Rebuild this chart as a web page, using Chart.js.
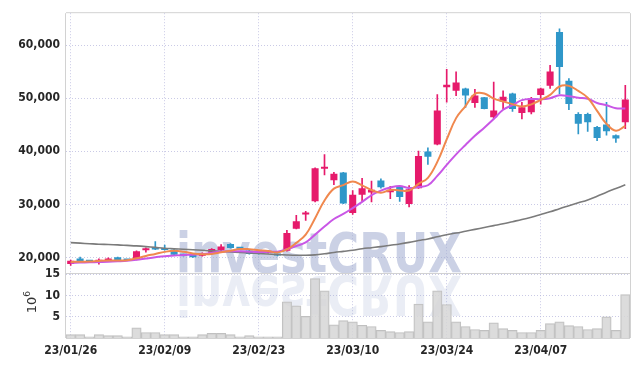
<!DOCTYPE html>
<html><head><meta charset="utf-8">
<script src="https://cdn.jsdelivr.net/npm/chart.js@4.4.0/dist/chart.umd.min.js"></script>
<style>html,body{margin:0;padding:0;background:#fff;}canvas{display:block}</style>
</head><body>
<canvas id="c" width="639" height="366"></canvas>
<script>
const dates = ['23/01/26','23/01/27','23/01/30','23/01/31','23/02/01','23/02/02','23/02/03','23/02/06','23/02/07','23/02/08',
'23/02/09','23/02/10','23/02/13','23/02/14','23/02/15','23/02/16','23/02/17','23/02/20','23/02/21','23/02/22',
'23/02/23','23/02/24','23/02/27','23/02/28','23/03/02','23/03/03','23/03/06','23/03/07','23/03/08','23/03/09',
'23/03/10','23/03/13','23/03/14','23/03/15','23/03/16','23/03/17','23/03/20','23/03/21','23/03/22','23/03/23',
'23/03/24','23/03/27','23/03/28','23/03/29','23/03/30','23/03/31','23/04/03','23/04/04','23/04/05','23/04/06',
'23/04/07','23/04/10','23/04/11','23/04/12','23/04/13','23/04/14','23/04/17','23/04/18','23/04/19','23/04/20'];
const openP = [18760,19810,19320,18940,19440,20060,19500,19630,21370,21620,
21620,21490,20500,20560,20310,20870,21370,22550,21800,21310,
21120,20880,20560,21250,25400,28100,30600,36700,34550,36000,
28400,31830,32250,34500,32300,33380,30080,33060,39970,41270,
52100,51420,51850,49100,50170,46440,49370,50900,47240,47370,
50600,52360,62500,53300,47060,47060,44580,45080,43030,45500];
const highP = [19500,20060,19380,19750,19940,20100,19560,21250,21800,22990,
22360,21550,20620,20600,20870,21680,22430,22600,21870,21400,
21180,21300,20620,25100,27950,28700,36900,39400,36050,36050,
32600,34930,34400,34810,33400,33500,33570,40050,40660,50700,
55450,54970,51900,51700,50200,53050,51420,51000,49240,50170,
51900,56200,63100,53700,47300,47200,44700,49240,43100,52450];
const lowP = [18510,19250,19130,18760,19250,19400,19380,19560,21000,21450,
21370,20450,20250,20000,20250,20810,21300,21750,21600,20620,
20620,20800,20310,21200,25400,27000,30450,35550,33700,30150,
28100,30580,30450,33060,31100,30580,29520,33000,37540,41200,
49250,50490,48300,48300,47990,46100,48000,47500,46120,47060,
48900,51850,50800,47870,43300,43770,42000,43030,41700,44250];
const closeP = [19380,19320,19200,19560,19630,19440,19440,21180,21740,21500,
21430,20500,20310,20060,20810,21620,22050,21800,21650,20680,
20680,21250,20380,24600,26850,28400,36800,37050,35800,30150,
31830,33060,32750,33250,32750,31380,32880,39100,38980,47700,
52550,52970,50500,50500,48000,47700,50300,48000,48300,50000,
51850,55030,55900,48920,45200,45500,42520,43770,42400,49750];
const volumeM = [0.8,0.8,0.3,0.8,0.55,0.55,0.3,2.4,1.3,1.3,
0.8,0.8,0.3,0.3,0.8,1.1,1.1,0.8,0.3,0.55,
0.3,0.3,0.3,8.5,7.6,5.1,14.0,11.1,3.1,4.1,
3.8,3.0,2.7,1.8,1.5,1.3,1.5,8.0,3.8,11.1,
7.9,3.8,2.7,2.0,1.8,3.6,2.2,1.8,1.3,1.3,
1.8,3.4,3.8,2.9,2.7,2.0,2.2,5.0,1.8,10.2];
const ma5 = [19150,19200,19250,19350,19420,19430,19460,19850,20290,20660,
21060,21270,21100,20760,20620,20660,20970,21270,21590,21560,
21370,21210,20930,21520,22750,24300,27410,30740,32980,33640,
34330,33580,32720,32210,32730,32640,32600,33870,35020,38010,
42240,46260,48540,50840,50900,49930,49400,48900,48460,48860,
49690,50640,52220,52340,51380,50110,47610,45180,43880,44790];
const ma10 = [19000,19050,19100,19150,19200,19280,19380,19550,19800,20040,
20240,20360,20470,20520,20640,20860,21120,21180,21170,21090,
21020,21090,21100,21550,22160,22830,24310,25830,27250,28200,
29310,30490,31730,32590,33180,33480,33090,33300,33610,35370,
37440,39430,41210,42930,44460,46090,47830,48720,49650,49880,
49810,50020,50560,50400,50120,49900,49120,48700,48110,48080];
const maLong = [22800,22700,22600,22500,22450,22380,22280,22180,22050,21900,
21750,21650,21550,21450,21350,21250,21150,21050,20950,20850,
20750,20650,20550,20480,20430,20420,20500,20700,20950,21150,
21350,21650,21850,22050,22300,22550,22850,23200,23500,23900,
24300,24600,24950,25300,25650,26000,26350,26750,27150,27600,
28100,28600,29200,29750,30300,30850,31550,32300,33000,33700];
const priceTicks = [20000,30000,40000,50000,60000];
const volumeTicks = [5,10,15];
const labelEvery = 10;

const UP = '#e61a6b', DOWN = '#2f97c9';
const GRID = 'rgba(180,180,220,0.7)';
const BORDER = '#d2d2d2';
const FONT = {family:'"DejaVu Sans Condensed", "DejaVu Sans", sans-serif', size:12, weight:'bold'};
const TXT = '#262626';
const candleColors = closeP.map((c,i)=> c>=openP[i] ? UP : DOWN);

const decor = {
  id:'decor',
  beforeDatasetsDraw(chart){
    const ctx = chart.ctx;
    ctx.save();
    ctx.font = 'bold 55px "DejaVu Sans Condensed", "DejaVu Sans", sans-serif';
    ctx.textBaseline = 'alphabetic';
    ctx.fillStyle = 'rgba(160,172,208,0.55)';
    ctx.fillText('investCRUX', 176, 272, 286);
    ctx.translate(0, 548); ctx.scale(1,-1);
    ctx.fillStyle = 'rgba(160,172,208,0.22)';
    ctx.fillText('investCRUX', 176, 272, 286);
    ctx.restore();
  },
  afterDraw(chart){
    const ctx = chart.ctx, a = chart.chartArea, yv = chart.scales.yv;
    ctx.save();
    ctx.strokeStyle = BORDER; ctx.lineWidth = 1;
    ctx.beginPath();
    ctx.moveTo(a.left-0.5, a.top); ctx.lineTo(a.left-0.5, a.bottom);
    ctx.moveTo(a.right+0.5, a.top); ctx.lineTo(a.right+0.5, a.bottom);
    ctx.moveTo(a.left, a.top-0.5); ctx.lineTo(a.right, a.top-0.5);
    ctx.moveTo(a.left, Math.round(yv.top)+0.5); ctx.lineTo(a.right, Math.round(yv.top)+0.5);
    ctx.moveTo(a.left, a.bottom+0.5); ctx.lineTo(a.right, a.bottom+0.5);
    ctx.stroke();
    ctx.translate(33, 305); ctx.rotate(-Math.PI/2);
    ctx.fillStyle = '#333';
    ctx.textAlign = 'center'; ctx.textBaseline = 'middle';
    ctx.font = '13px "DejaVu Sans", sans-serif';
    ctx.fillText('10', 0, 0);
    ctx.font = '9px "DejaVu Sans", sans-serif';
    ctx.fillText('6', 11, -5);
    ctx.restore();
  }
};

new Chart(document.getElementById('c'), {
  data: {
    labels: dates,
    datasets: [
      {type:'line', label:'MA5', data:ma5, yAxisID:'y', borderColor:'#f0884e', borderWidth:2, pointRadius:0, tension:0.4, order:0},
      {type:'line', label:'MA10', data:ma10, yAxisID:'y', borderColor:'#c957e6', borderWidth:2, pointRadius:0, tension:0.4, order:0},
      {type:'line', label:'MA60', data:maLong, yAxisID:'y', borderColor:'#7b7b7b', borderWidth:1.6, pointRadius:0, tension:0.4, order:0},
      {type:'bar', label:'body', data:openP.map((o,i)=>[o,closeP[i]]), yAxisID:'y', backgroundColor:candleColors, borderWidth:0,
        barPercentage:0.75, categoryPercentage:1, grouped:false, minBarLength:2, order:1},
      {type:'bar', label:'wick', data:lowP.map((l,i)=>[l,highP[i]]), yAxisID:'y', backgroundColor:candleColors, borderWidth:0,
        barThickness:1, grouped:false, order:2},
      {type:'bar', label:'volume', data:volumeM, yAxisID:'yv', backgroundColor:'rgba(214,214,214,0.85)', borderColor:'#c0c0c0',
        borderWidth:1, barPercentage:1, categoryPercentage:1, grouped:false, order:3}
    ]
  },
  options: {
    responsive:false, animation:false, devicePixelRatio:1,
    layout:{padding:{left:0, right:9, top:10, bottom:0}},
    plugins:{legend:{display:false}, tooltip:{enabled:false}},
    scales:{
      x:{type:'category', offset:true,
        grid:{offset:false, drawTicks:false, color:(c)=> (c.index % labelEvery === 0) ? GRID : 'rgba(0,0,0,0)'},
        border:{display:false, dash:[1,2]},
        ticks:{autoSkip:false, maxRotation:0, padding:6, font:FONT, color:TXT,
          callback:(v,i)=> i % labelEvery === 0 ? dates[i] : ''},
        afterFit:(s)=>{s.height = 28;}
      },
      yv:{type:'linear', position:'left', stack:'p', stackWeight:1, min:0, max:15.3,
        afterBuildTicks:(s)=>{s.ticks = volumeTicks.map(v=>({value:v}));},
        grid:{drawTicks:false, color:GRID}, border:{display:false, dash:[1,2]},
        ticks:{padding:6, font:FONT, color:TXT, callback:(v)=> String(v)},
        afterFit:(s)=>{s.width = 66;}
      },
      y:{type:'linear', position:'left', stack:'p', stackWeight:4, min:17070, max:66030,
        afterBuildTicks:(s)=>{s.ticks = priceTicks.map(v=>({value:v}));},
        grid:{drawTicks:false, color:GRID}, border:{display:false, dash:[1,2]},
        ticks:{padding:6, font:FONT, color:TXT, callback:(v)=> Number(v).toLocaleString('en-US')},
        afterFit:(s)=>{s.width = 66;}
      }
    }
  },
  plugins:[decor]
});
</script>
</body></html>
